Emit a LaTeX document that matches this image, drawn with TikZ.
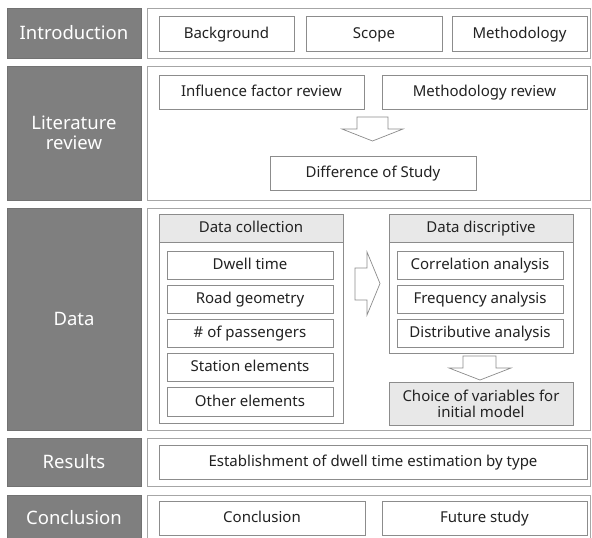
\documentclass[tikz,border=0pt]{standalone}
\usepackage{fontspec}
\setmainfont{Noto Sans}
\begin{document}
\begin{tikzpicture}[x=1pt,y=-1pt,
  every node/.style={inner sep=0pt,outer sep=0pt,align=center},
  fixt/.style={text height=11pt,text depth=2pt},
  fixs/.style={text height=13.5pt,text depth=1.5pt},
  sect/.style={fill=secgray,draw=secgray!90!black,line width=0.6pt,text=white,font=\fontsize{18.5}{22}\selectfont},
  outer/.style={draw=linegray,line width=0.8pt,fill=white},
  itembox/.style={draw=boxgray,line width=0.7pt,fill=white,text=txt,font=\fontsize{15}{18}\selectfont,fixt},
  headbox/.style={draw=boxgray,line width=0.7pt,fill=headfill,text=txt,font=\fontsize{15}{18}\selectfont},
  groupbox/.style={draw=boxgray,line width=0.7pt,fill=white},
  blockarrow/.style={draw=boxgray,line width=0.7pt,fill=white,line join=miter}]
\definecolor{secgray}{HTML}{7F7F7F}
\definecolor{linegray}{HTML}{A6A6A6}
\definecolor{boxgray}{HTML}{8C8C8C}
\definecolor{headfill}{HTML}{E8E8E8}
\definecolor{txt}{HTML}{222222}
\newcommand\bx[7]{\node[#6,minimum width={(#4-#2)*1pt},minimum height={(#5-#3)*1pt}] (#1) at ({(#2+#4)/2},{(#3+#5)/2}) {#7};}
\useasboundingbox (0,0) rectangle (592,538);
% Introduction
\bx{s1}{7}{8}{141}{58}{sect,fixs}{Introduction}
\bx{r1}{147}{8}{590}{58}{outer}{}
\bx{bg}{159}{16}{294}{51}{itembox}{Background}
\bx{sc}{306}{16}{442}{51}{itembox}{Scope}
\bx{me}{452}{16}{587}{51}{itembox}{Methodology}
% Literature review
\bx{s2}{7}{66}{141}{200}{sect}{Literature\\[-2pt]review}
\bx{r2}{147}{66}{590}{200}{outer}{}
\bx{ifr}{159}{75}{364}{109}{itembox}{Influence factor review}
\bx{mr}{382}{75}{587}{109}{itembox}{Methodology review}
\bx{ds}{270}{156}{476}{190}{itembox}{Difference of Study}
\draw[blockarrow] (357,117) -- (388,117) -- (388,129) -- (403,129) -- (372.5,141) -- (342,129) -- (357,129) -- cycle;
% Data
\bx{s3}{7}{208}{141}{430}{sect,fixs}{Data}
\bx{r3}{147}{208}{590}{430}{outer}{}
\bx{dc}{159}{214}{343}{423}{groupbox}{}
\bx{dch}{159}{214}{343}{242}{headbox,fixt}{Data collection}
\bx{d1}{167}{251}{333}{279}{itembox}{Dwell time}
\bx{d2}{167}{285}{333}{313}{itembox}{Road geometry}
\bx{d3}{167}{319}{333}{347}{itembox}{\# of passengers}
\bx{d4}{167}{353}{333}{381}{itembox}{Station elements}
\bx{d5}{167}{387}{333}{416}{itembox}{Other elements}
\draw[blockarrow] (355,268) -- (367,268) -- (367,252) -- (380,283.5) -- (367,315) -- (367,300) -- (355,300) -- cycle;
\bx{dd}{389}{214}{573}{353}{groupbox}{}
\bx{ddh}{389}{214}{573}{242}{headbox,fixt}{Data discriptive}
\bx{a1}{397}{251}{563}{279}{itembox}{Correlation analysis}
\bx{a2}{397}{285}{563}{313}{itembox}{Frequency analysis}
\bx{a3}{397}{319}{563}{347}{itembox}{Distributive analysis}
\draw[blockarrow] (463,356) -- (496,356) -- (496,368) -- (511,368) -- (480,380) -- (449,368) -- (463,368) -- cycle;
\bx{cv}{389}{382}{573}{425}{headbox}{Choice of variables for\\[-2pt]initial model}
% Results
\bx{s4}{7}{438}{141}{486}{sect,fixs}{Results}
\bx{r4}{147}{438}{590}{486}{outer}{}
\bx{es}{159}{445}{587}{479}{itembox}{Establishment of dwell time estimation by type}
% Conclusion
\bx{s5}{7}{495}{141}{545}{sect}{}
\node[sect,fill=none,draw=none,fixs] (s5t) at (74,518) {Conclusion};
\bx{r5}{147}{495}{590}{545}{outer}{}
\bx{co}{159}{501}{365}{535}{itembox}{Conclusion}
\bx{fs}{382}{501}{587}{535}{itembox}{Future study}
\end{tikzpicture}
\end{document}
